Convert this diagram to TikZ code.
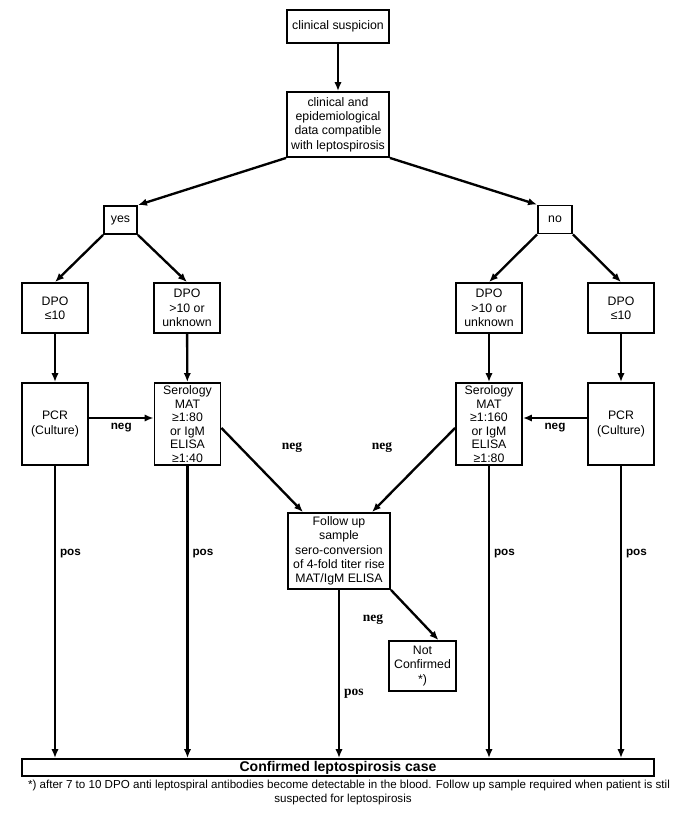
\documentclass[tikz,border=0pt]{standalone}
\usepackage{fontspec}
\setmainfont{Liberation Sans}
\newfontfamily\labserif{Liberation Serif}
\usepackage{tikz}
\usetikzlibrary{arrows.meta,positioning}

\begin{document}
\begin{tikzpicture}[
  x=0.3mm, y=-0.3mm,
  box/.style={rectangle, draw=black, line width=1.6pt, align=center, inner sep=1pt, font=\fontsize{10.5}{12.2}\selectfont},
  smallbox/.style={box, minimum width=19.8mm, minimum height=15mm},
  tallbox/.style={box, minimum width=19.8mm, minimum height=24.6mm},
  edge/.style={line width=2pt, -{Latex[length=2.7mm, width=2.2mm]}},
  lab/.style={font=\fontsize{10}{11}\selectfont\bfseries},
  serlab/.style={font=\fontsize{11.5}{12}\selectfont\labserif\bfseries}
]
\useasboundingbox (0,0) rectangle (683,820);

% Top
\node[box, minimum width=30.6mm, minimum height=9.9mm] (susp) at (338, 26.5) {clinical suspicion};
\node[box, minimum width=30.6mm, minimum height=19.5mm] (data) at (338, 124.5) {clinical and\\epidemiological\\data compatible\\with leptospirosis};

% Yes / no
\node[box, minimum width=9.9mm, minimum height=8.4mm] (yes) at (120.5, 220) {yes};
\node[box, minimum width=10.2mm, minimum height=8.4mm] (no) at (555, 219.5) {no};

% DPO boxes
\node[smallbox] (dpoL) at (55, 308) {DPO\\≤10};
\node[smallbox] (dpoLU) at (187, 308) {DPO\\>10 or\\unknown};
\node[smallbox] (dpoRU) at (489, 308) {DPO\\>10 or\\unknown};
\node[smallbox] (dpoR) at (621, 308) {DPO\\≤10};

% Tests
\node[tallbox] (pcrL) at (55, 424) {PCR\\(Culture)};
\node[tallbox, font=\fontsize{10.5}{11.6}\selectfont] (serL) at (187.5, 424) {Serology\\MAT\\≥1:80\\or IgM\\ELISA\\≥1:40};
\node[tallbox, font=\fontsize{10.5}{11.6}\selectfont] (serR) at (489, 424) {Serology\\MAT\\≥1:160\\or IgM\\ELISA\\≥1:80};
\node[tallbox] (pcrR) at (621, 424) {PCR\\(Culture)};

% Follow up
\node[box, minimum width=30.6mm, minimum height=22.8mm] (follow) at (339, 551) {Follow up\\sample\\sero-conversion\\of 4-fold titer rise\\MAT/IgM ELISA};
\node[box, minimum width=20.1mm, minimum height=15mm] (notconf) at (422.5, 666) {Not\\Confirmed\\*)};

% Result
\node[box, minimum width=189.6mm, minimum height=5.1mm, font=\fontsize{12}{13}\selectfont\bfseries] (conf) at (338, 767.5) {Confirmed leptospirosis case};
\node[font=\fontsize{9.9}{11}\selectfont, inner sep=0pt] (note1) at (349, 785) {*) after 7 to 10 DPO anti leptospiral antibodies become detectable in the blood. Follow up sample required when patient is stil};
\node[font=\fontsize{9.9}{11}\selectfont, inner sep=0pt] (note2) at (343, 799) {suspected for leptospirosis};

% Edges
\draw[edge] (susp) -- (data);
\draw[edge] (data.south west) -- (yes.north east);
\draw[edge] (data.south east) -- (no.north west);
\draw[edge] (yes.south west) -- (dpoL.north);
\draw[edge] (yes.south east) -- (dpoLU.north);
\draw[edge] (no.south west) -- (dpoRU.north);
\draw[edge] (no.south east) -- (dpoR.north);
\draw[edge] (dpoL) -- (pcrL);
\draw[edge] (dpoLU) -- (serL);
\draw[edge] (dpoRU) -- (serR);
\draw[edge] (dpoR) -- (pcrR);

\draw[edge] ([yshift=1.8mm]pcrL.east) -- node[lab, below] {neg} ([yshift=1.8mm]serL.west);
\draw[edge] ([yshift=1.8mm]pcrR.west) -- node[lab, below] {neg} ([yshift=1.8mm]serR.east);

\draw[edge] ([yshift=-1.2mm]serL.east) -- ([xshift=-10.8mm]follow.north);
\draw[edge] ([yshift=-1.2mm]serR.west) -- ([xshift=9.9mm]follow.north);
\node[serlab] (negA) at (292, 448) {neg};
\node[serlab] (negB) at (382, 448) {neg};

\draw[edge] (follow.south east) -- ([xshift=4.8mm]notconf.north);
\node[serlab] (negC) at (373, 620) {neg};

% To confirmed
\draw[edge] (pcrL.south) -- node[lab, right, pos=0.3] {pos} (pcrL.south |- conf.north);
\draw[edge] (serL.south) -- node[lab, right, pos=0.3] {pos} (serL.south |- conf.north);
\draw[edge] (follow.south) -- node[serlab, right, pos=0.62] {pos} (follow.south |- conf.north);
\draw[edge] (serR.south) -- node[lab, right, pos=0.3] {pos} (serR.south |- conf.north);
\draw[edge] (pcrR.south) -- node[lab, right, pos=0.3] {pos} (pcrR.south |- conf.north);

\end{tikzpicture}
\end{document}
